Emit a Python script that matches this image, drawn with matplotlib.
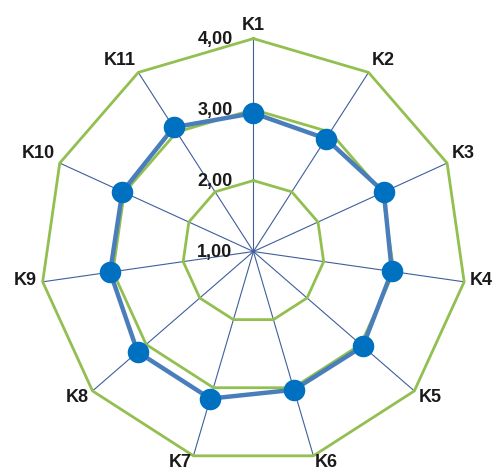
import numpy as np
import matplotlib
matplotlib.use('Agg')
import matplotlib.pyplot as plt

# categories and values
labels = ["K1", "K2", "K3", "K4", "K5", "K6", "K7", "K8", "K9", "K10", "K11"]
values = [2.95, 2.89, 3.02, 2.97, 3.04, 3.03, 3.16, 3.16, 3.04, 3.03, 3.08]
rings = [2.0, 3.0, 4.0]
tick_vals = [1.0, 2.0, 3.0, 4.0]
tick_text = ["1,00", "2,00", "3,00", "4,00"]
r_min, r_max = 1.0, 4.0

plt.rcParams['font.family'] = ['Liberation Sans', 'DejaVu Sans']

fig = plt.figure(figsize=(4.94, 4.77), dpi=100)
ax = fig.add_axes([0.082, 0.0241, 0.862, 0.893], projection='polar')
ax.set_theta_zero_location('N')
ax.set_theta_direction(-1)
ax.set_ylim(r_min, r_max)
ax.grid(False)
ax.spines['polar'].set_visible(False)
ax.set_xticks([])
ax.set_yticks([])

n = len(labels)
theta = np.arange(n) * 2 * np.pi / n
closed = np.append(theta, theta[0])

green = '#92bf50'
# polygon gridlines
for r in rings:
    ax.plot(closed, [r] * (n + 1), color=green, lw=2.0, zorder=2, clip_on=False)

# spokes
for t in theta:
    ax.plot([t, t], [r_min, r_max], color='#3f5f9c', lw=0.8, zorder=1, clip_on=False)

# data series
vals = np.append(values, values[0])
ax.plot(closed, vals, color='#4a7ebb', lw=3.2, zorder=3, clip_on=False)
ax.plot(theta, values, 'o', color='#0070c0', markersize=14.5, zorder=4, clip_on=False)

# radial tick labels, left of the K1 spoke
for v, s in zip(tick_vals, tick_text):
    ax.annotate(s, xy=(0, v), xytext=(-15, 0), textcoords='offset points',
                ha='right', va='center', fontsize=13, fontweight='bold',
                color='#1a1a1a', zorder=5, annotation_clip=False)

# category labels
for t, lab in zip(theta, labels):
    s, c = np.sin(t), np.cos(t)
    ha = 'left' if s > 0.1 else ('right' if s < -0.1 else 'center')
    va = 'bottom' if c > 0.3 else ('top' if c < -0.3 else 'center')
    dy = 4 * c if c > 0 else 2
    ax.annotate(lab, xy=(t, r_max), xytext=(4 * s, dy), textcoords='offset points',
                ha=ha, va=va, fontsize=13, fontweight='bold', color='#1a1a1a',
                annotation_clip=False)

fig.savefig('out.png', dpi=100, facecolor='white')
